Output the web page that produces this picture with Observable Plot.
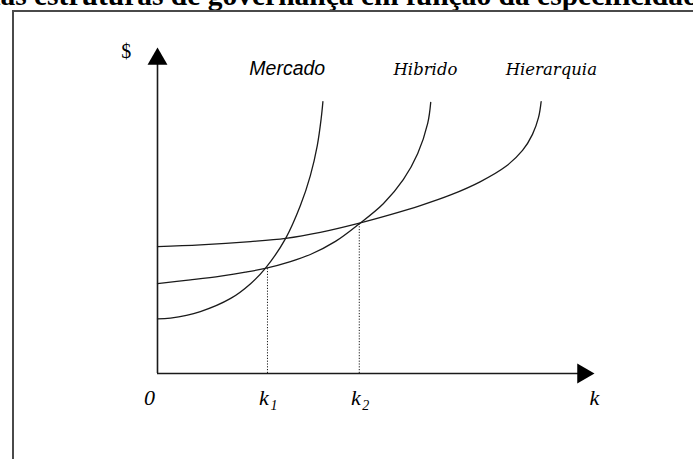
<!DOCTYPE html>
<html>
<head>
<meta charset="utf-8">
<script src="https://cdn.jsdelivr.net/npm/d3@7"></script>
<script src="https://cdn.jsdelivr.net/npm/@observablehq/plot@0.6"></script>
<style>
  html, body { margin: 0; padding: 0; background: #fff; overflow: hidden; }
  #wrap { position: relative; width: 693px; height: 459px; overflow: hidden; }
  #title { position: absolute; left: -16px; top: -19px; white-space: nowrap;
           font: bold 29.5px/29px "Liberation Serif", "Times New Roman", serif; color: #000; }
  #box { position: absolute; left: 12px; top: 10px; width: 700px; height: 460px;
         border-top: 2px solid #4a4a4a; border-left: 2px solid #4a4a4a; }
  #chart { position: absolute; left: 0; top: 0; }
</style>
</head>
<body>
<div id="wrap">
  <div id="title">das estruturas de governança em função da especificidade dos ativos</div>
  <div id="box"></div>
  <div id="chart"></div>
</div>
<script>
// Curve readings: k (specificity, 0..100) and $ (cost, 0..100)
const mercadoK  = [0, 3.0, 9.9, 16.9, 21.5, 24.9, 29.6, 33.0, 35.3, 36.9, 37.8, 38.2];
const mercadoV  = [20.0, 20.3, 22.7, 27.5, 32.9, 38.5, 49.5, 61.5, 72.5, 83.5, 93.4, 99.6];
const hibridoK  = [0, 7.6, 14.6, 20.3, 24.9, 30.7, 35.3, 41.1, 46.4, 52.2, 56.8, 60.1, 62.4, 63.1];
const hibridoV  = [32.9, 34.3, 35.7, 37.1, 38.5, 41.0, 43.6, 48.4, 54.6, 62.3, 71.1, 80.6, 91.6, 99.3];
const hierarquiaK = [0, 9.9, 21.5, 29.6, 37.6, 46.4, 53.8, 60.7, 67.7, 74.6, 80.4, 84.3, 86.6, 88.0, 88.6];
const hierarquiaV = [46.5, 47.1, 48.3, 49.5, 51.7, 55.0, 58.2, 61.5, 65.4, 70.3, 75.8, 81.7, 87.6, 93.8, 99.6];

// Labels
const curveNames = ["Mercado", "Hibrido", "Hierarquia"];
const curveLabelK = [21.2, 54.5, 80.4];
const curveLabelV = 109.5;

// Threshold points k1, k2
const thresholdK = [25.4, 46.6];
const thresholdV = [38.5, 54.9];
const thresholdSub = ["1", "2"];

const yAxisTop = 119.4;   // arrow tip of $ axis
const xAxisEnd = 100.9;   // arrow tip of k axis

const toRows = (ks, vs) => ks.map((k, i) => ({k, v: vs[i]}));
const mercado = toRows(mercadoK, mercadoV);
const hibrido = toRows(hibridoK, hibridoV);
const hierarquia = toRows(hierarquiaK, hierarquiaV);
const thresholds = thresholdK.map((k, i) => ({k, v: thresholdV[i], sub: thresholdSub[i]}));
const labels = curveNames.map((name, i) => ({name, k: curveLabelK[i], v: curveLabelV}));

const ink = "#1a1a1a";
const curveOpts = {x: "k", y: "v", stroke: ink, strokeWidth: 1.3, curve: "catmull-rom"};
const serifItalic = "'Liberation Serif', 'Times New Roman', serif";

const chart = Plot.plot({
  width: 693,
  height: 459,
  margin: 0,
  x: {domain: [0, 100], range: [157, 590], axis: null},
  y: {domain: [0, 100], range: [373, 100], axis: null},
  marks: [
    // axes
    Plot.ruleX([0], {y1: 0, y2: yAxisTop - 6, stroke: ink, strokeWidth: 1.6}),
    Plot.ruleY([0], {x1: 0, x2: xAxisEnd - 3, stroke: ink, strokeWidth: 1.6}),
    Plot.dot([{k: 0, v: yAxisTop}], {x: "k", y: "v", symbol: "triangle", r: 7.4, fill: "#000", stroke: null, dy: 11.4}),
    Plot.dot([{k: xAxisEnd, v: 0}], {x: "k", y: "v", symbol: "triangle", r: 7.4, fill: "#000", stroke: null, rotate: 90, dx: -11.4}),
    // dotted thresholds
    Plot.ruleX(thresholds, {x: "k", y1: 0, y2: "v", stroke: ink, strokeWidth: 1, strokeDasharray: "1.2,1.6"}),
    // curves
    Plot.line(mercado, curveOpts),
    Plot.line(hibrido, curveOpts),
    Plot.line(hierarquia, curveOpts),
    // curve labels
    Plot.text(labels.filter(d => d.name === "Mercado"), {x: "k", y: "v", text: "name", textAnchor: "start", lineAnchor: "bottom",
      fontStyle: "italic", fontFamily: "'Liberation Sans', Arial, sans-serif", fontSize: 19.5, fill: "#000"}),
    Plot.text(labels.filter(d => d.name !== "Mercado"), {x: "k", y: "v", text: "name", textAnchor: "start", lineAnchor: "bottom",
      fontStyle: "italic", fontFamily: "'DejaVu Serif', serif", fontSize: 16.5, fill: "#000"}),
    // $ label
    Plot.text(["$"], {x: -7.2, y: 115.4, text: d => d, textAnchor: "middle", lineAnchor: "bottom",
      fontFamily: serifItalic, fontSize: 20, fill: "#000"}),
    // tick labels
    Plot.text(["0"], {x: 0, y: -11.7, text: d => d, dx: -8, textAnchor: "middle", lineAnchor: "bottom",
      fontStyle: "italic", fontFamily: serifItalic, fontSize: 22, fill: "#000"}),
    Plot.text(thresholds, {x: "k", y: -11.7, text: () => "k", dx: -3.5, textAnchor: "middle", lineAnchor: "bottom",
      fontStyle: "italic", fontFamily: serifItalic, fontSize: 22, fill: "#000"}),
    Plot.text(thresholds, {x: "k", y: -11.7, text: "sub", dx: 6.5, dy: 5, textAnchor: "middle", lineAnchor: "bottom",
      fontStyle: "italic", fontFamily: serifItalic, fontSize: 14, fill: "#000"}),
    Plot.text(["k"], {x: xAxisEnd, y: -11.7, text: d => d, textAnchor: "middle", lineAnchor: "bottom",
      fontStyle: "italic", fontFamily: serifItalic, fontSize: 22, fill: "#000"})
  ]
});
document.getElementById("chart").appendChild(chart);
</script>
</body>
</html>
